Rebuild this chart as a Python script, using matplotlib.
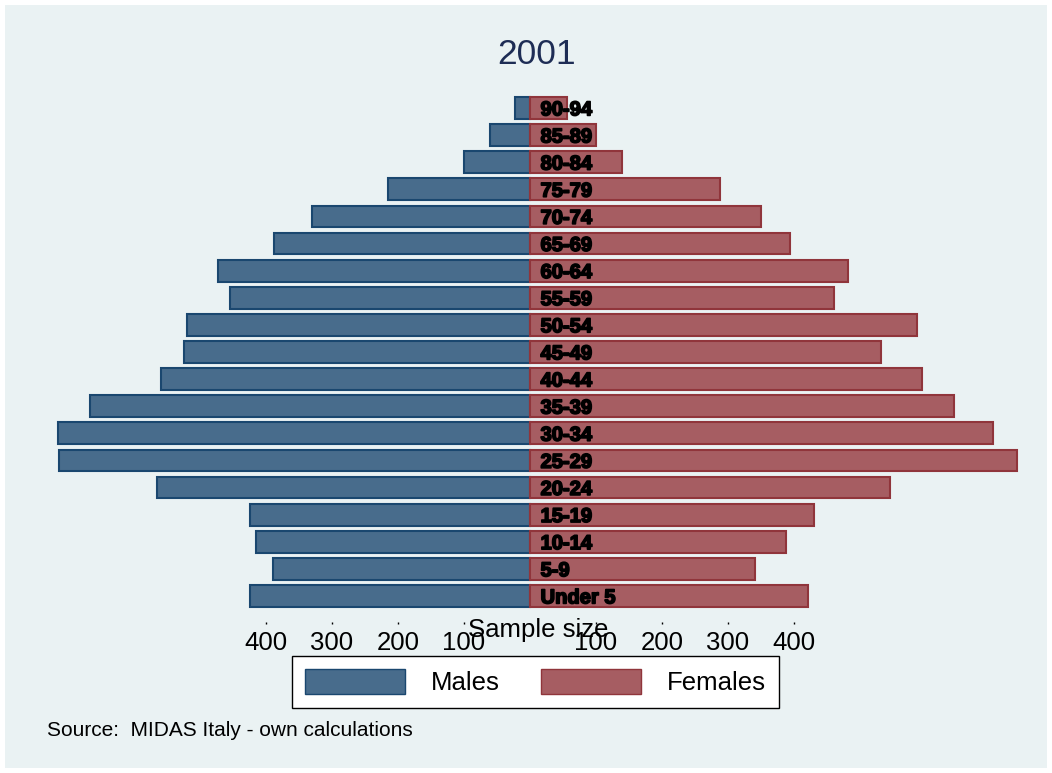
import matplotlib
matplotlib.use("Agg")
import matplotlib.pyplot as plt
import matplotlib.patheffects as pe
from matplotlib.patches import Rectangle, Patch

plt.rcParams['font.family'] = ['Liberation Sans', 'DejaVu Sans']

# age groups, bottom to top
ages = ["Under 5", "5-9", "10-14", "15-19", "20-24", "25-29", "30-34", "35-39",
        "40-44", "45-49", "50-54", "55-59", "60-64", "65-69", "70-74", "75-79",
        "80-84", "85-89", "90-94"]
males = [424, 389, 415, 424, 565, 714, 715, 667, 559, 524, 520, 455, 473, 388,
         330, 215, 100, 61, 23]
females = [421, 341, 388, 430, 545, 738, 702, 642, 594, 532, 586, 461, 482, 394,
           350, 288, 139, 100, 56]
tick_vals = [-400, -300, -200, -100, 100, 200, 300, 400]

W, H = 1052, 773
fig = plt.figure(figsize=(W / 100, H / 100), dpi=100, facecolor='white')
bg = '#EAF2F3'
fig.patches.append(Rectangle((5 / W, 5 / H), 1 - 10 / W, 1 - 10 / H,
                             transform=fig.transFigure, facecolor=bg,
                             edgecolor='none', zorder=-10))

# axes placed in pixels: centre at x=530, 66 px per 100 units
px_per = 0.66
ax_l, ax_r, ax_t, ax_b = 40, 1030, 92, 622
ax = fig.add_axes([ax_l / W, 1 - ax_b / H, (ax_r - ax_l) / W, (ax_b - ax_t) / H])
ax.set_facecolor('none')
ax.set_xlim((ax_l - 530) / px_per, (ax_r - 530) / px_per)
row = (596 - 108) / 18
ax.set_ylim(-(ax_b - 596) / row, 18 + (108 - ax_t) / row)

y = list(range(len(ages)))
ax.barh(y, [-m for m in males], height=0.8, color='#486C8C', edgecolor='#1A476F',
        linewidth=1.5, label='Males')
ax.barh(y, females, height=0.8, color='#A65D62', edgecolor='#90353B',
        linewidth=1.5, label='Females')

for yi, a in zip(y, ages):
    ax.text(16, yi - 0.07, a, ha='left', va='center', fontsize=14.5, fontweight='bold',
            color='black', path_effects=[pe.withStroke(linewidth=1.2, foreground='black')])

for s in ax.spines.values():
    s.set_visible(False)
ax.set_yticks([])
ax.set_xticks(tick_vals)
ax.set_xticklabels([str(abs(v)) for v in tick_vals], fontsize=18.5)
ax.tick_params(axis='x', length=1.5, width=1, pad=5, color='black')

fig.text(538 / W, 1 - 630 / H, "Sample size", ha='center', va='center', fontsize=18.5)
fig.text(537 / W, 1 - 55 / H, "2001", ha='center', va='center', fontsize=25.5,
         color='#1E2D55')
fig.text(47 / W, 1 - 731 / H, "Source:  MIDAS Italy - own calculations",
         ha='left', va='center', fontsize=15)

handles = [Patch(facecolor='#486C8C', edgecolor='#1A476F', linewidth=1),
           Patch(facecolor='#A65D62', edgecolor='#90353B', linewidth=1)]
leg = fig.legend(handles, ['Males', 'Females'], loc='center',
                 bbox_to_anchor=(535.5 / W, 1 - 682 / H), ncol=2, fontsize=18.5,
                 handlelength=3.9, handleheight=1.15, handletextpad=1.0,
                 columnspacing=1.6, borderpad=0.5, fancybox=False, framealpha=1,
                 edgecolor='black', facecolor='white')
leg.get_frame().set_linewidth(1)

fig.savefig('out.png', dpi=100, facecolor='white')
